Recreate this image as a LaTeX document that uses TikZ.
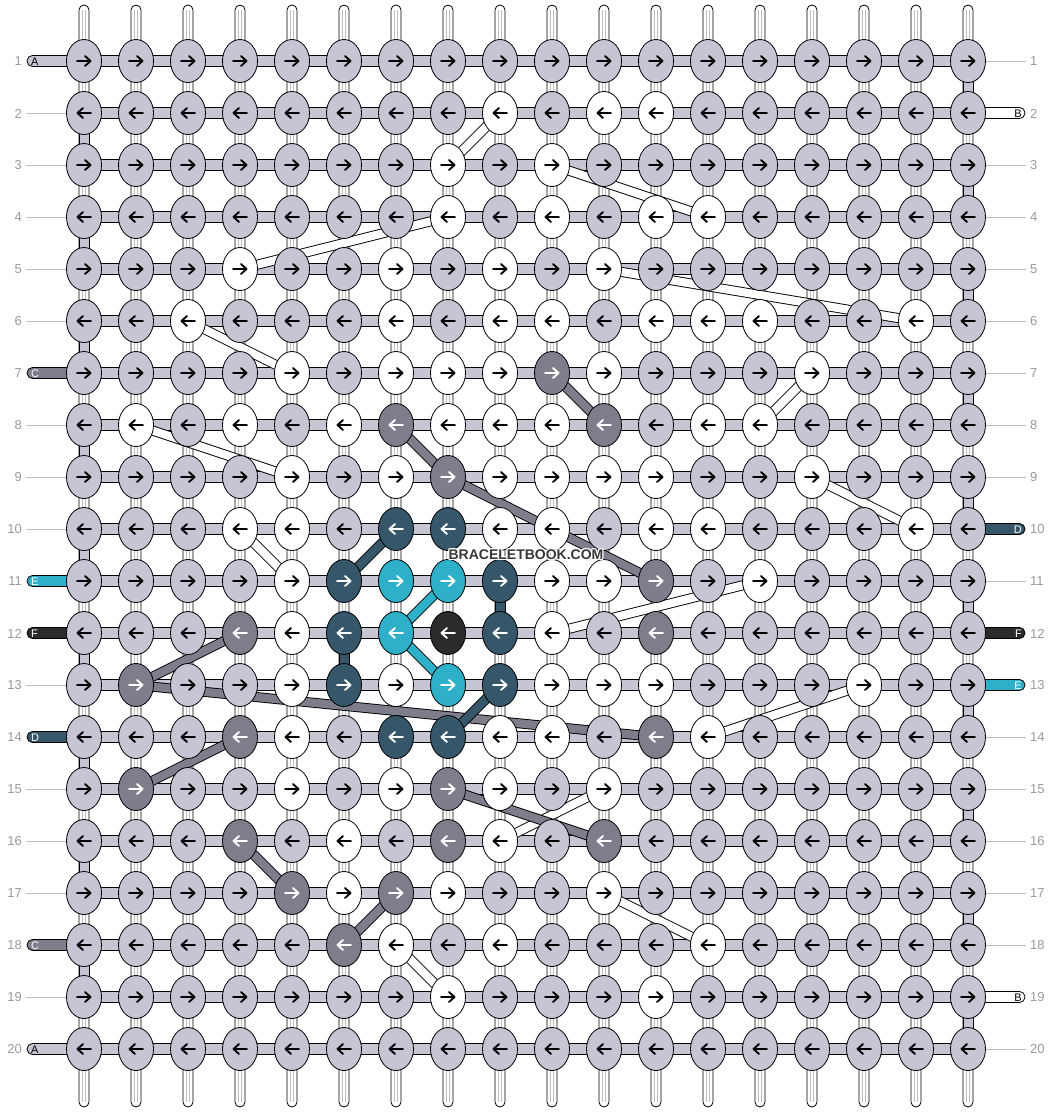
\documentclass[tikz,border=0pt]{standalone}
\usepackage{fontspec}
\setmainfont{Liberation Sans}
\usetikzlibrary{shapes.geometric}
\definecolor{cL}{HTML}{C5C5D3}
\definecolor{cW}{HTML}{FFFFFF}
\definecolor{cD}{HTML}{7E7D8C}
\definecolor{cT}{HTML}{36566A}
\definecolor{cC}{HTML}{2EB0C8}
\definecolor{cK}{HTML}{2B2B2B}
\colorlet{aL}{black}\colorlet{aW}{black}\colorlet{aD}{white}\colorlet{aT}{white}\colorlet{aC}{white}\colorlet{aK}{white}
\colorlet{tL}{black}\colorlet{tW}{black}\colorlet{tD}{white}\colorlet{tT}{white}\colorlet{tC}{white}\colorlet{tK}{white}
\definecolor{labgray}{HTML}{999999}
\definecolor{linegray}{HTML}{BEBEBE}
\newcommand\strandseg[5]{%
  \draw[line width=10pt, black] (p-#2-#3) -- (p-#4-#5);
  \draw[line width=8.2pt, #1] (p-#2-#3) -- (p-#4-#5);}
\begin{document}
\begin{tikzpicture}[x=1pt,y=-1pt,
  knot/.style={ellipse, draw=black, line width=0.8pt, minimum width=35pt, minimum height=43pt, inner sep=0pt},
  hbar/.style={draw=black, line width=0.8pt, fill=cL},
  vbar/.style={draw=black, line width=0.8pt, fill=white},
  numlab/.style={text=labgray, font=\fontsize{13}{13}\selectfont, inner sep=0pt},
  taglab/.style={font=\fontsize{11}{11}\selectfont, inner sep=0pt},
  arr/.style={line width=1.9pt, line cap=round, line join=round}]
\useasboundingbox (0,0) rectangle (1052,1112);
% grid coordinates
\foreach \r in {1,...,20}{\foreach \c in {1,...,18}{
  \coordinate (p-\r-\c) at ({84+52*(\c-1)},{61+52*(\r-1)});}}
% vertical strands
\foreach \c in {1,...,18}{
  \pgfmathsetmacro\x{84+52*(\c-1)}
  \draw[vbar, rounded corners=5pt] ({\x-5},5) rectangle ({\x+5},1107);
  \draw[linegray, line width=0.5pt] ({\x-1.6},10) -- ({\x-1.6},1102) ({\x+1.6},10) -- ({\x+1.6},1102);
}
% edge turns
\foreach \r in {1,3,...,19}{\pgfmathsetmacro\ya{61+52*(\r-1)}
  \draw[hbar] (963,\ya) rectangle (973,{\ya+52});}
\foreach \r in {2,4,...,18}{\pgfmathsetmacro\ya{61+52*(\r-1)}
  \draw[hbar] (79,\ya) rectangle (89,{\ya+52});}
% coloured vertical runs
\draw[draw=black, line width=0.8pt, fill=cT] (495,581) rectangle (505,633);
\draw[draw=black, line width=0.8pt, fill=cT] (339,633) rectangle (349,685);
% horizontal strands
\foreach \r in {1,...,20}{\pgfmathsetmacro\y{61+52*(\r-1)}
  \draw[hbar] (84,{\y-5.5}) rectangle (968,{\y+5.5});}
% left tags
\foreach \r/\t/\k in {1/A/L,7/C/D,11/E/C,12/F/K,14/D/T,18/C/D,20/A/L}{
  \pgfmathsetmacro\y{61+52*(\r-1)}
  \draw[draw=black, line width=0.8pt, fill=c\k, rounded corners=5.4pt] (84,{\y-5.5}) -- (27,{\y-5.5}) -- (27,{\y+5.5}) -- (84,{\y+5.5});
  \node[taglab, text=t\k, anchor=west] (tagl-\r) at (31,{\y+0.5}) {\t};
}
% right tags
\foreach \r/\t/\k in {2/B/W,10/D/T,12/F/K,13/E/C,19/B/W}{
  \pgfmathsetmacro\y{61+52*(\r-1)}
  \draw[draw=black, line width=0.8pt, fill=c\k, rounded corners=5.4pt] (968,{\y-5.5}) -- (1025,{\y-5.5}) -- (1025,{\y+5.5}) -- (968,{\y+5.5});
  \node[taglab, text=t\k, anchor=east] (tagr-\r) at (1022,{\y+0.5}) {\t};
}
% row label lines
\foreach \r in {2,3,4,5,6,8,9,10,13,15,16,17,19}{\pgfmathsetmacro\y{61+52*(\r-1)}
  \draw[linegray, line width=0.8pt] (26,\y) -- (67,\y);}
\foreach \r in {1,3,4,5,6,7,8,9,11,14,15,16,17,18,20}{\pgfmathsetmacro\y{61+52*(\r-1)}
  \draw[linegray, line width=0.8pt] (986,\y) -- (1026,\y);}
\foreach \r in {1,...,20}{\pgfmathsetmacro\y{61+52*(\r-1)}
  \node[numlab, anchor=east] (ll-\r) at (22,{\y+0.5}) {\r};
  \node[numlab, anchor=west] (lr-\r) at (1030,{\y+0.5}) {\r};}
% coloured strands crossing rows
\strandseg{cW}{2}{9}{3}{8}
\strandseg{cW}{3}{10}{4}{13}
\strandseg{cW}{4}{8}{5}{4}
\strandseg{cW}{5}{11}{6}{17}
\strandseg{cW}{6}{3}{7}{5}
\strandseg{cW}{7}{15}{8}{14}
\strandseg{cW}{8}{2}{9}{5}
\strandseg{cW}{9}{15}{10}{17}
\strandseg{cW}{10}{4}{11}{5}
\strandseg{cW}{12}{10}{11}{14}
\strandseg{cW}{14}{13}{13}{16}
\strandseg{cW}{15}{11}{16}{9}
\strandseg{cW}{17}{11}{18}{13}
\strandseg{cW}{18}{7}{19}{8}
\strandseg{cD}{7}{10}{8}{11}
\strandseg{cD}{8}{7}{9}{8}
\strandseg{cD}{9}{8}{11}{12}
\strandseg{cD}{12}{4}{13}{2}
\strandseg{cD}{13}{2}{14}{12}
\strandseg{cD}{14}{4}{15}{2}
\strandseg{cD}{15}{8}{16}{11}
\strandseg{cD}{16}{4}{17}{5}
\strandseg{cD}{17}{7}{18}{6}
\strandseg{cT}{11}{6}{10}{7}
\strandseg{cT}{13}{9}{14}{8}
\strandseg{cC}{11}{8}{12}{7}
\strandseg{cC}{12}{7}{13}{8}
% knots
\foreach \r/\row in {
 1/{L,L,L,L,L,L,L,L,L,L,L,L,L,L,L,L,L,L},
 2/{L,L,L,L,L,L,L,L,W,L,W,W,L,L,L,L,L,L},
 3/{L,L,L,L,L,L,L,W,L,W,L,L,L,L,L,L,L,L},
 4/{L,L,L,L,L,L,L,W,L,W,L,W,W,L,L,L,L,L},
 5/{L,L,L,W,L,L,W,L,W,L,W,L,L,L,L,L,L,L},
 6/{L,L,W,L,L,L,W,L,W,W,L,W,W,W,L,L,W,L},
 7/{L,L,L,L,W,L,W,W,W,D,W,L,L,L,W,L,L,L},
 8/{L,W,L,W,L,W,D,W,W,W,D,L,W,W,L,L,L,L},
 9/{L,L,L,L,W,L,W,D,W,W,W,W,L,L,W,L,L,L},
 10/{L,L,L,W,W,L,T,T,W,W,L,W,W,L,L,L,W,L},
 11/{L,L,L,L,W,T,C,C,T,W,W,D,L,W,L,L,L,L},
 12/{L,L,L,D,W,T,C,K,T,W,L,D,L,L,L,L,L,L},
 13/{L,D,L,L,W,T,W,C,T,W,W,W,L,L,L,W,L,L},
 14/{L,L,L,D,W,L,T,T,W,W,L,D,W,L,L,L,L,L},
 15/{L,D,L,L,W,L,W,D,W,L,W,L,L,L,L,L,L,L},
 16/{L,L,L,D,L,W,L,D,W,L,D,L,L,L,L,L,L,L},
 17/{L,L,L,L,D,W,D,W,L,L,W,L,L,L,L,L,L,L},
 18/{L,L,L,L,L,D,W,L,W,L,L,L,W,L,L,L,L,L},
 19/{L,L,L,L,L,L,L,W,L,L,L,W,L,L,L,L,L,L},
 20/{L,L,L,L,L,L,L,L,L,L,L,L,L,L,L,L,L,L}}{
  \pgfmathsetmacro\d{ifthenelse(mod(\r,2)==1,1,-1)}
  \pgfmathsetmacro\y{61+52*(\r-1)}
  \foreach \k [count=\c] in \row {
    \pgfmathsetmacro\x{84+52*(\c-1)}
    \node[knot, fill=c\k] (n-\r-\c) at (p-\r-\c) {};
    \draw[arr, draw=a\k] ({\x-7*\d},\y) -- ({\x+6*\d},\y)
      ({\x+1*\d},{\y-5}) -- ({\x+6.5*\d},\y) -- ({\x+1*\d},{\y+5});
  }
}
% watermark
\foreach \dx/\dy in {-1/0,1/0,0/-1,0/1,-1/-1,1/1,-1/1,1/-1}{
  \node[font=\bfseries\fontsize{14}{14}\selectfont, text=white, inner sep=0pt] at ({526+\dx},{555+\dy}) {BRACELETBOOK.COM};}
\node[font=\bfseries\fontsize{14}{14}\selectfont, text=black!78, inner sep=0pt] (wm) at (526,555) {BRACELETBOOK.COM};
\end{tikzpicture}
\end{document}
